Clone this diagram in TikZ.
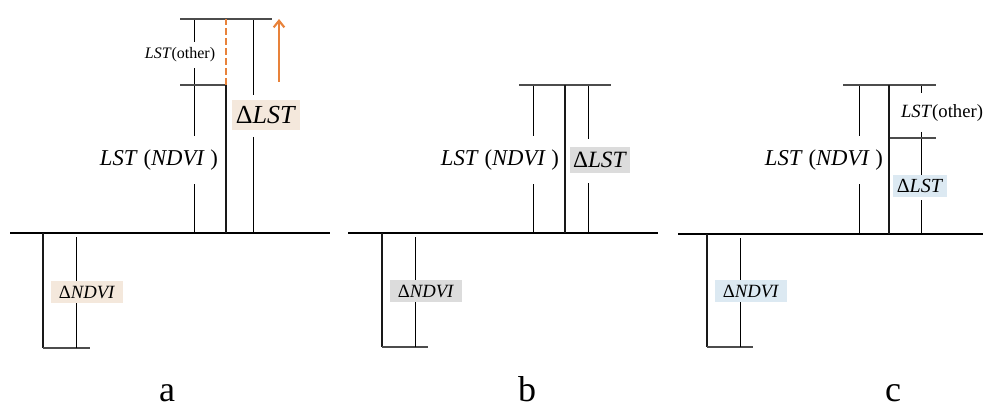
\documentclass[tikz,border=0pt]{standalone}
\usepackage{fontspec}
\setmainfont{Liberation Serif}
\usetikzlibrary{arrows.meta}
\definecolor{beige}{HTML}{F4E8DC}
\definecolor{lgray}{HTML}{DCDCDC}
\definecolor{lblue}{HTML}{DCE9F2}
\definecolor{orng}{HTML}{E8823A}
\definecolor{thin}{HTML}{8C8C8C}
\begin{document}
\begin{tikzpicture}[x=0.75pt,y=-0.75pt,
  base/.style={line width=1.6pt,black},
  bar/.style={line width=1.7pt,black!90},
  dim/.style={line width=0.8pt,thin},
  tick/.style={line width=0.9pt,black!70},
  wlab/.style={fill=white,inner xsep=1pt,inner ysep=6pt},
  clab/.style={inner xsep=1pt,inner ysep=1pt},
  panel/.style={font=\fontsize{27}{29}\selectfont,anchor=base,inner sep=0pt}]
\useasboundingbox (0,0) rectangle (997,410);

% ---------- panel a ----------
\draw[base] (10,233) -- (330,233);
\draw[bar] (43,233) -- (43,348);
\draw[tick] (43,348) -- (90,348);
\draw[dim] (76,237) -- (76,282) (76,303) -- (76,348);
\node[clab,fill=beige,minimum width=54pt,minimum height=16pt,font=\fontsize{14}{16}\selectfont] (andvi) at (87,292) {Δ\textit{NDVI}};

\draw[dim] (194,19) -- (194,233);
\draw[dim] (253,19) -- (253,95) (253,137) -- (253,233);
\draw[tick] (180,85) -- (226,85);
\draw[tick] (180,19) -- (272,19);
\draw[bar] (226,233) -- (226,85);
\draw[orng,line width=2pt,dash pattern=on 5pt off 2.5pt] (226,85) -- (226,19);
\coordinate (arrA) at (279,82);
\coordinate (arrB) at (279,19);
\draw[orng,line width=1.6pt,-{Straight Barb[length=5pt,width=8pt]}] (arrA) -- (arrB);
\node[wlab,inner ysep=4pt,font=\fontsize{12}{14}\selectfont] (aoth) at (180,55) {\textit{LST}(other)};
\node[wlab,inner ysep=10pt,font=\fontsize{17}{20}\selectfont] (andvi2) at (159,160) {\textit{LST} (\textit{NDVI} )};
\node[clab,fill=beige,minimum width=51pt,minimum height=22.5pt,font=\fontsize{19.5}{22}\selectfont] (alst) at (266,115) {Δ\textit{LST}};
\node[panel] (la) at (167,401) {a};

% ---------- panel b ----------
\draw[base] (348,233) -- (658,233);
\draw[bar] (382,233) -- (382,347);
\draw[tick] (382,347) -- (428,347);
\draw[dim] (415,237) -- (415,280) (415,302) -- (415,347);
\node[clab,fill=lgray,minimum width=54pt,minimum height=16.5pt,font=\fontsize{14}{16}\selectfont] (bndvi) at (426,291) {Δ\textit{NDVI}};

\draw[dim] (533,85) -- (533,233);
\draw[dim] (588,85) -- (588,139) (588,183) -- (588,233);
\draw[tick] (519,85) -- (611,85);
\draw[bar] (565,233) -- (565,85);
\node[wlab,inner ysep=10pt,font=\fontsize{17}{20}\selectfont] (bndvi2) at (500,160) {\textit{LST} (\textit{NDVI} )};
\node[clab,fill=lgray,minimum width=45pt,minimum height=19.5pt,font=\fontsize{17.5}{20}\selectfont] (blst) at (600,160) {Δ\textit{LST}};
\node[panel] (lb) at (527,401) {b};

% ---------- panel c ----------
\draw[base] (678,234) -- (983,234);
\draw[bar] (707,234) -- (707,347);
\draw[tick] (707,347) -- (753,347);
\draw[dim] (740,238) -- (740,280) (740,302) -- (740,347);
\node[clab,fill=lblue,minimum width=54pt,minimum height=16.5pt,font=\fontsize{14}{16}\selectfont] (cndvi) at (751,291) {Δ\textit{NDVI}};

\draw[dim] (859,85) -- (859,234);
\draw[dim] (921,85) -- (921,93) (921,132) -- (921,175) (921,200) -- (921,234);
\draw[tick] (843,85) -- (936,85);
\draw[tick] (889,138) -- (936,138);
\draw[bar] (889,234) -- (889,85);
\node[wlab,inner ysep=10pt,font=\fontsize{17}{20}\selectfont] (cndvi2) at (824,160) {\textit{LST} (\textit{NDVI} )};
\node[inner sep=1pt,font=\fontsize{14}{16}\selectfont] (coth) at (942,113) {\textit{LST}(other)};
\node[clab,fill=lblue,minimum width=40.5pt,minimum height=16.5pt,font=\fontsize{15}{17}\selectfont] (clst) at (920,186) {Δ\textit{LST}};
\node[panel] (lc) at (893,401) {c};
\end{tikzpicture}
\end{document}
